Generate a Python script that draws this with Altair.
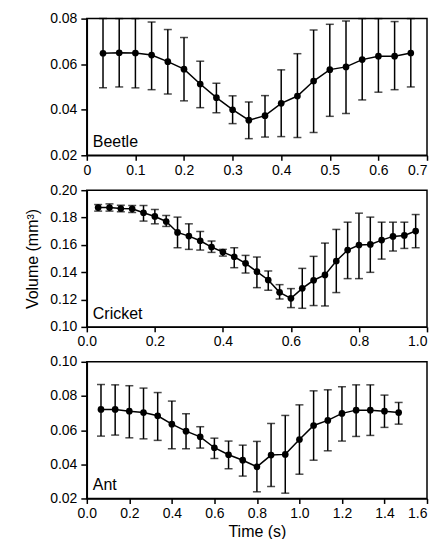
import altair as alt
import pandas as pd

# ---- data ----
beetle_t = [k / 30 for k in range(1, 21)]
beetle_mean = [0.0648, 0.0650, 0.0649, 0.0640, 0.0611, 0.0578, 0.0513, 0.0453, 0.0400, 0.0354,
               0.0374, 0.0428, 0.0460, 0.0526, 0.0576, 0.0588, 0.0620, 0.0635, 0.0635, 0.0649]
beetle_lo = [0.0497, 0.0500, 0.0496, 0.0488, 0.0469, 0.0439, 0.0409, 0.0387, 0.0339, 0.0273,
             0.0280, 0.0282, 0.0278, 0.0300, 0.0371, 0.0383, 0.0443, 0.0477, 0.0488, 0.0500]
beetle_hi = [0.0800, 0.0800, 0.0800, 0.0785, 0.0752, 0.0717, 0.0613, 0.0516, 0.0461, 0.0434,
             0.0462, 0.0575, 0.0646, 0.0750, 0.0775, 0.0790, 0.0800, 0.0800, 0.0787, 0.0800]

cricket_t = [k / 30 for k in range(1, 30)]
cricket_mean = [0.1873, 0.1873, 0.1866, 0.1864, 0.1835, 0.1808, 0.1771, 0.1691, 0.1664, 0.1630,
                0.1584, 0.1547, 0.1513, 0.1465, 0.1404, 0.1343, 0.1253, 0.1209, 0.1282, 0.1341,
                0.1380, 0.1482, 0.1562, 0.1599, 0.1603, 0.1635, 0.1662, 0.1669, 0.1701]
cricket_lo = [0.1847, 0.1847, 0.1842, 0.1837, 0.1774, 0.1754, 0.1735, 0.1579, 0.1567, 0.1562,
              0.1545, 0.1518, 0.1433, 0.1394, 0.1287, 0.1268, 0.1204, 0.1141, 0.1136, 0.1156,
              0.1153, 0.1251, 0.1353, 0.1353, 0.1399, 0.1496, 0.1555, 0.1574, 0.1579]
cricket_hi = [0.1895, 0.1900, 0.1890, 0.1888, 0.1888, 0.1859, 0.1815, 0.1803, 0.1754, 0.1698,
              0.1628, 0.1567, 0.1579, 0.1523, 0.1511, 0.1409, 0.1309, 0.1280, 0.1428, 0.1516,
              0.1613, 0.1713, 0.1766, 0.1832, 0.1803, 0.1766, 0.1766, 0.1766, 0.1822]

ant_t = [k / 15 for k in range(1, 23)]
ant_mean = [0.0721, 0.0721, 0.0711, 0.0703, 0.0684, 0.0635, 0.0594, 0.0561, 0.0497, 0.0456,
            0.0424, 0.0385, 0.0454, 0.0458, 0.0545, 0.0627, 0.0657, 0.0698, 0.0717, 0.0717,
            0.0711, 0.0703]
ant_lo = [0.0565, 0.0571, 0.0555, 0.0549, 0.0540, 0.0491, 0.0491, 0.0495, 0.0434, 0.0374,
          0.0331, 0.0239, 0.0270, 0.0231, 0.0342, 0.0424, 0.0479, 0.0536, 0.0563, 0.0569,
          0.0616, 0.0635]
ant_hi = [0.0867, 0.0865, 0.0860, 0.0846, 0.0820, 0.0770, 0.0696, 0.0620, 0.0553, 0.0536,
          0.0512, 0.0534, 0.0639, 0.0686, 0.0748, 0.0830, 0.0836, 0.0854, 0.0865, 0.0865,
          0.0805, 0.0762]

W, H = 341, 137
FONT = "Liberation Sans"


def panel(t, mean, lo, hi, name, xdom, xticks, xexpr, ydom, yticks, ytitle, xtitle):
    df = pd.DataFrame({"t": t, "mean": mean, "lo": lo, "hi": hi})
    base = alt.Chart(df)
    xaxis = alt.Axis(values=xticks, labelExpr=xexpr, title=xtitle, labelPadding=3, titlePadding=3,
                     labelAlign=alt.ExprRef(f"datum.value >= {xdom[1] - 0.01} ? 'right' : 'center'"))
    x = alt.X("t:Q", scale=alt.Scale(domain=xdom, nice=False, zero=False), axis=xaxis)
    yscale = alt.Scale(domain=ydom, nice=False, zero=False)
    yaxis = alt.Axis(values=yticks, format=".2f", title=ytitle, tickSize=6,
                     labelPadding=4, titlePadding=9)
    rule = base.mark_rule(color="black", strokeWidth=1.5).encode(
        x=x, y=alt.Y("lo:Q", scale=yscale, axis=yaxis), y2="hi:Q")
    cap_lo = base.mark_tick(color="black", orient="horizontal", size=8, thickness=1.5).encode(
        x=x, y=alt.Y("lo:Q", scale=yscale, axis=yaxis))
    cap_hi = base.mark_tick(color="black", orient="horizontal", size=8, thickness=1.5).encode(
        x=x, y=alt.Y("hi:Q", scale=yscale, axis=yaxis))
    line = base.mark_line(color="black", strokeWidth=1.5).encode(
        x=x, y=alt.Y("mean:Q", scale=yscale, axis=yaxis))
    pts = base.mark_circle(color="black", size=45, opacity=1).encode(
        x=x, y=alt.Y("mean:Q", scale=yscale, axis=yaxis))
    lab = alt.Chart(pd.DataFrame({"n": [name]})).mark_text(
        align="left", baseline="alphabetic", font=FONT, fontSize=16, color="black").encode(
        x=alt.value(6), y=alt.value(H - 8), text="n:N")
    return alt.layer(rule, cap_lo, cap_hi, line, pts, lab).properties(width=W, height=H)


p1 = panel(beetle_t, beetle_mean, beetle_lo, beetle_hi, "Beetle",
           [0, 0.7], [0, 0.1, 0.2, 0.3, 0.4, 0.5, 0.6, 0.7],
           "datum.value == 0 ? '0' : format(datum.value, '.1f')",
           [0.02, 0.08], [0.02, 0.04, 0.06, 0.08], None, None)
p2 = panel(cricket_t, cricket_mean, cricket_lo, cricket_hi, "Cricket",
           [0, 1.0], [0, 0.2, 0.4, 0.6, 0.8, 1.0],
           "format(datum.value, '.1f')",
           [0.10, 0.20], [0.10, 0.12, 0.14, 0.16, 0.18, 0.20], "Volume (mm³)", None)
p3 = panel(ant_t, ant_mean, ant_lo, ant_hi, "Ant",
           [0, 1.6], [0, 0.2, 0.4, 0.6, 0.8, 1.0, 1.2, 1.4, 1.6],
           "format(datum.value, '.1f')",
           [0.02, 0.10], [0.02, 0.04, 0.06, 0.08, 0.10], None, "Time (s)")

chart = alt.vconcat(p1, p2, p3, spacing=4).properties(
    padding={"left": 16, "top": 2, "right": 0, "bottom": 0}
).configure_view(stroke="black", strokeWidth=1.5).configure_axis(
    grid=False, labelFont=FONT, labelFontSize=14, labelColor="black", labelFlush=False,
    titleFont=FONT, titleFontSize=16, titleFontWeight="normal", titleColor="black",
    domainColor="black", domainWidth=1.5, tickColor="black", tickWidth=1.5, tickSize=5,
    labelPadding=2, titlePadding=3
).configure_concat(spacing=4)

chart.save("out.html", embed_options={"renderer": "svg", "actions": False})
